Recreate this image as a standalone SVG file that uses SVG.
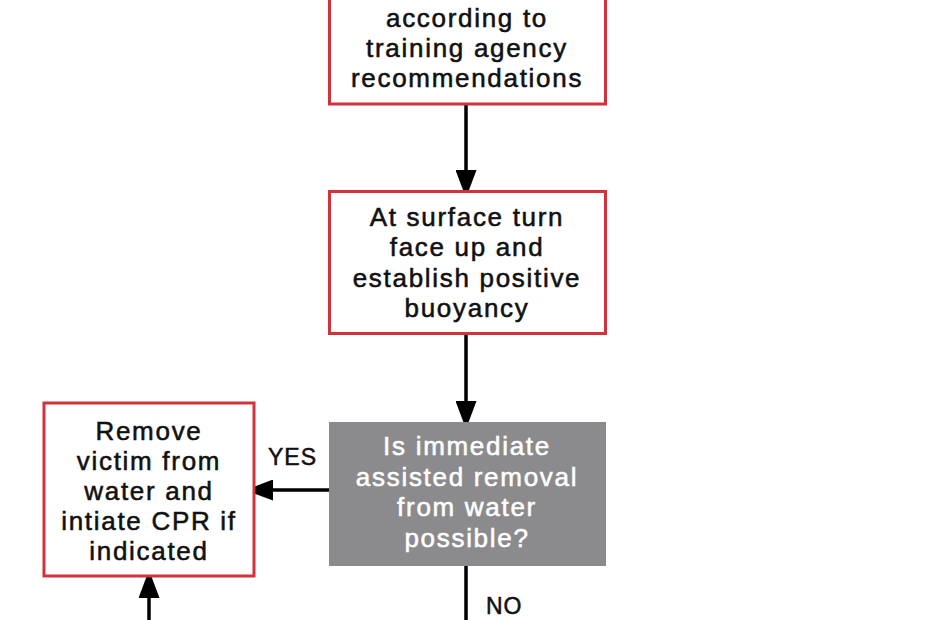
<svg xmlns="http://www.w3.org/2000/svg" width="930" height="620" viewBox="0 0 930 620">
<style>
.box{fill:#ffffff;stroke:#d2323c;stroke-width:3}
.dec{fill:#8b8b8d;stroke:none}
.t{font-family:"Liberation Sans",Arial,sans-serif;font-size:26px;letter-spacing:1.7px;text-anchor:middle;fill:#111;stroke:#111;stroke-width:0.55}
.tw{fill:#ffffff;stroke:#ffffff}
.lbl{font-family:"Liberation Sans",Arial,sans-serif;font-size:23px;letter-spacing:1px;fill:#111;stroke:#111;stroke-width:0.5}
.line{stroke:#000;stroke-width:3.5;fill:none}
</style>
<defs>
<marker id="ah" viewBox="0 0 28 21" refX="27" refY="10.5" markerWidth="28" markerHeight="21" markerUnits="userSpaceOnUse" orient="auto">
<path d="M0,0 L28,10.5 L0,21 Z" fill="#000"/>
</marker>
</defs>
<rect width="930" height="620" fill="#ffffff"/>
<g id="connectors">
<line class="line" x1="466" y1="104" x2="466" y2="197" marker-end="url(#ah)"/>
<line class="line" x1="466" y1="334" x2="466" y2="428" marker-end="url(#ah)"/>
<line class="line" x1="329" y1="490" x2="246" y2="490" marker-end="url(#ah)"/>
<line class="line" x1="149" y1="622" x2="149" y2="571" marker-end="url(#ah)"/>
<line class="line" x1="466" y1="566" x2="466" y2="622"/>
<text class="lbl" x="268" y="465">YES</text>
<text class="lbl" x="486" y="614">NO</text>
</g>
<g id="node-ascent">
<rect class="box" x="329.5" y="-10" width="276" height="114"/>
<text class="t" x="467" y="27">according to</text>
<text class="t" x="467" y="57">training agency</text>
<text class="t" x="467" y="87">recommendations</text>
</g>
<g id="node-surface">
<rect class="box" x="329.5" y="191.5" width="276" height="142"/>
<text class="t" x="467" y="226">At surface turn</text>
<text class="t" x="467" y="256">face up and</text>
<text class="t" x="467" y="287">establish positive</text>
<text class="t" x="467" y="317">buoyancy</text>
</g>
<g id="node-decision">
<rect class="dec" x="329" y="422" width="277" height="144"/>
<text class="t tw" x="467" y="455">Is immediate</text>
<text class="t tw" x="467" y="486">assisted removal</text>
<text class="t tw" x="467" y="516">from water</text>
<text class="t tw" x="467" y="547">possible?</text>
</g>
<g id="node-remove">
<rect class="box" x="44" y="403" width="210" height="173"/>
<text class="t" x="149" y="440">Remove</text>
<text class="t" x="149" y="470">victim from</text>
<text class="t" x="149" y="500">water and</text>
<text class="t" x="149" y="530">intiate CPR if</text>
<text class="t" x="149" y="560">indicated</text>
</g>
</svg>
